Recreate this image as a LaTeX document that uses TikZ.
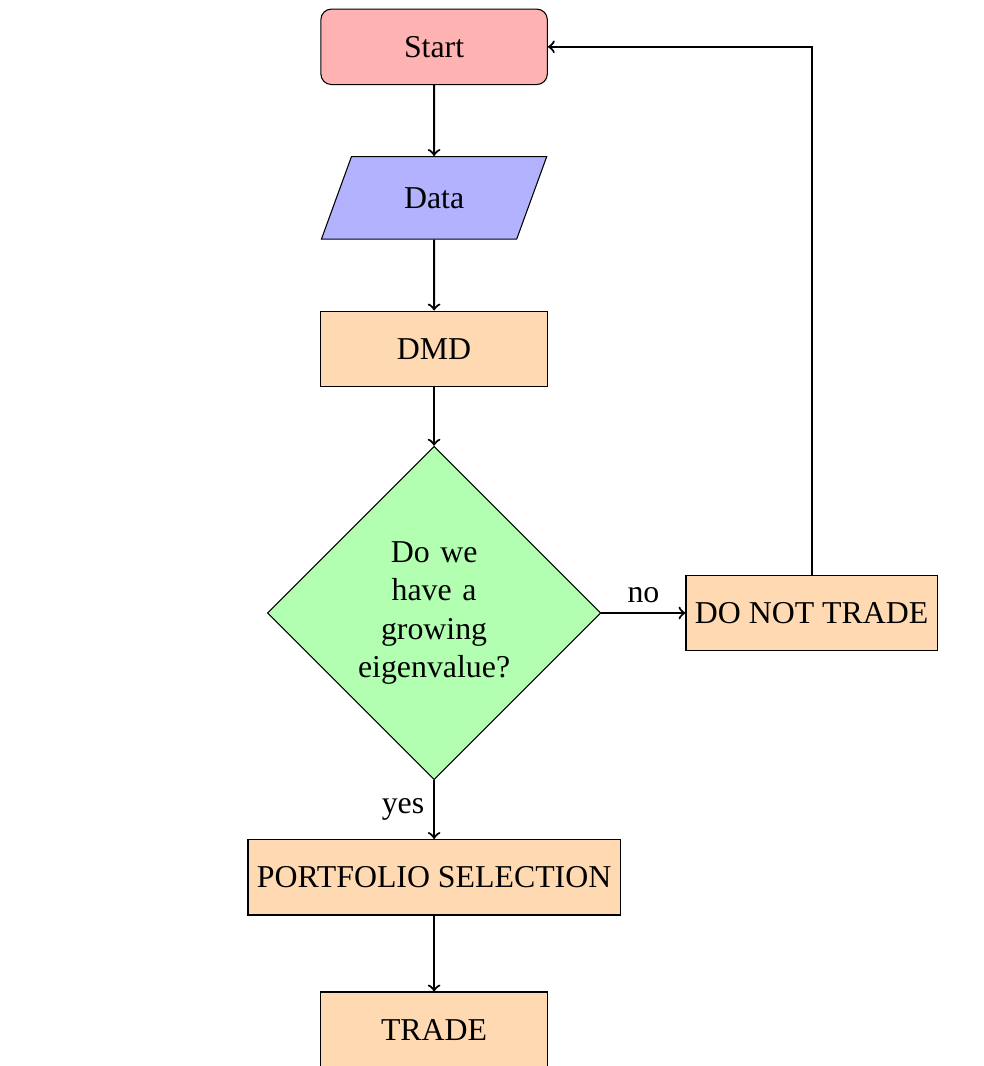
\documentclass[tikz,border=0pt]{standalone}
\usepackage{fontspec}
\setmainfont{Liberation Serif}
\usepackage{xcolor}
\usetikzlibrary{shapes.geometric}

\begin{document}
\begin{tikzpicture}[
    font=\fontsize{12}{14.5}\selectfont,
    startstop/.style={draw, rectangle, rounded corners, fill=red!30, minimum width=3cm, minimum height=1cm, align=center},
    iobox/.style={draw, trapezium, trapezium left angle=70, trapezium right angle=110, fill=blue!30, minimum width=3cm, minimum height=1cm, align=center},
    process/.style={draw, rectangle, fill=orange!30, minimum width=3cm, minimum height=1cm, align=center},
    decision/.style={draw, diamond, fill=green!30, text width=2.1cm, inner sep=3pt, align=center},
    arrow/.style={->, thick}
]
\useasboundingbox (-5.75,0.62) rectangle (7.28,-13.5);

% Start
\node[startstop] (start) at (0,0) {Start};

% Input data
\node[iobox] (data) at (0,-2) {Data};

% DMD
\node[process] (dmd) at (0,-4) {DMD};

% Decision
\node[decision] (dec) at (0,-7.5) {Do we\\ have a\\ growing\\ eigenvalue?};

% No trade
\node[process] (notrade) at (5,-7.5) {DO NOT TRADE};

% Portfolio selection
\node[process] (select) at (0,-11) {PORTFOLIO SELECTION};

% Trade
\node[process] (trade) at (0,-13.02) {TRADE};

% Arrows
\draw[arrow] (start) -- (data);
\draw[arrow] (data) -- (dmd);
\draw[arrow] (dmd) -- (dec);
\draw[arrow] (dec) -- node[above] {no} (notrade);
\draw[arrow] (dec) -- node[left] {yes} (select);
\draw[arrow] (select) -- (trade);
\draw[arrow] (notrade) |- (start);
\end{tikzpicture}
\end{document}
